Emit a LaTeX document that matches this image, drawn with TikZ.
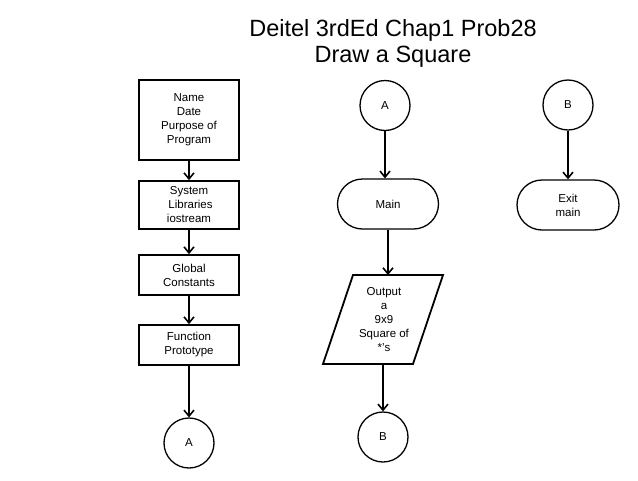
\documentclass[tikz,border=0pt]{standalone}
\usepackage{fontspec}
\setmainfont{Liberation Sans}
\usetikzlibrary{arrows.meta,shapes.misc}
\begin{document}
\begin{tikzpicture}[x=1pt,y=-1pt,
  txt/.style={font=\fontsize{11.5}{14}\selectfont, align=center},
  procbox/.style={txt, draw, line width=1.8pt, rectangle, minimum width=100pt, inner sep=0pt},
  conn/.style={txt, draw, line width=1.3pt, circle, minimum size=50pt, inner sep=0pt},
  term/.style={txt, draw, line width=1.3pt, rounded rectangle, minimum width=101pt, minimum height=50pt, inner sep=0pt},
  flow/.style={line width=1.8pt, -{Straight Barb[length=6pt,width=10pt,line width=1.6pt]}}]
\useasboundingbox (0,0) rectangle (638,480);
\node[font=\fontsize{23.5}{26}\selectfont, align=center] (title) at (393,43) {Deitel 3rdEd Chap1 Prob28\\Draw a Square};
% left column
\node[procbox, minimum height=80pt] (b1) at (189,120) {Name\\Date\\Purpose of\\Program};
\node[procbox, minimum height=48pt] (b2) at (189,205) {System\\\hspace*{3pt}Libraries\\iostream};
\node[procbox, minimum height=40pt] (b3) at (189,275) {Global\\Constants};
\node[procbox, minimum height=40pt] (b4) at (189,345) {Function\\Prototype};
\node[conn] (ca1) at (189,443) {A};
\draw[flow] (b1) -- (b2);
\draw[flow] (b2) -- (b3);
\draw[flow] (b3) -- (b4);
\draw[flow] (b4) -- (ca1);
% middle column
\node[conn] (ca2) at (385,105.5) {A};
\node[term] (main) at (388,204) {Main};
\draw[line width=1.8pt] (353,275) -- (443,275) -- (413,364) -- (323,364) -- cycle;
\node[txt] (out) at (384,320) {Output\\a\\9x9\\Square of\\*'s};
\coordinate (outtop) at (388,275);
\coordinate (outbot) at (383,364);
\node[conn] (cb2) at (383,437) {B};
\draw[flow] (ca2.south) -- (ca2.south |- main.north);
\draw[flow] (main.south) -- (outtop);
\draw[flow] (outbot) -- (cb2.north);
% right column
\node[conn] (cb3) at (568,105) {B};
\node[term, minimum width=102pt] (exit) at (568,205) {Exit\\main};
\draw[flow] (cb3) -- (exit);
\end{tikzpicture}
\end{document}
